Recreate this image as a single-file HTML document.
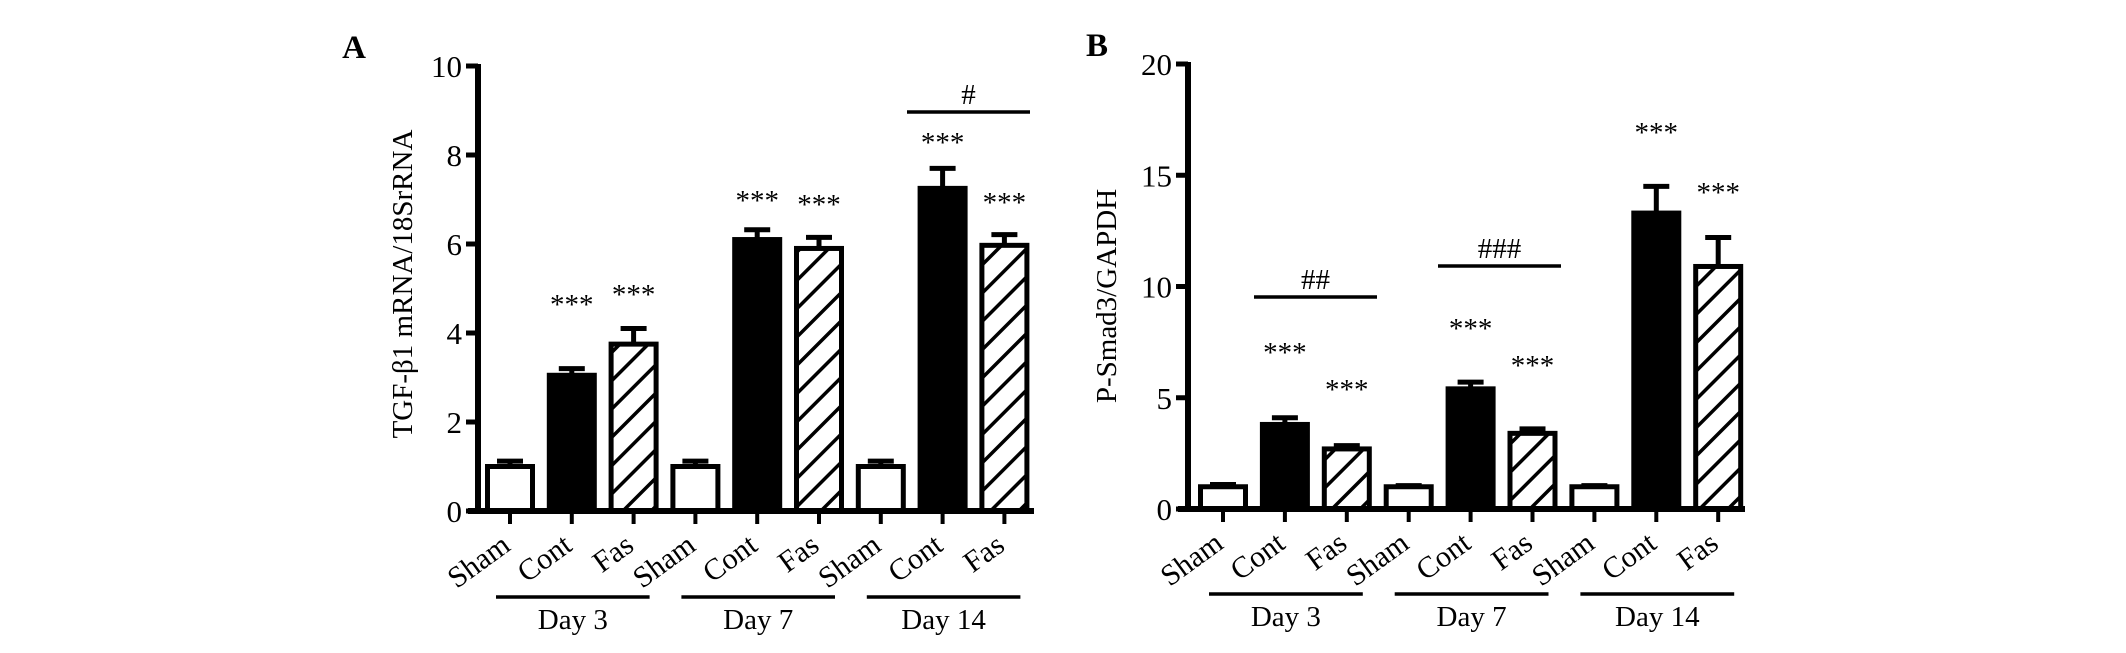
<!DOCTYPE html>
<html><head><meta charset="utf-8"><style>
html,body{margin:0;padding:0;background:#fff;}
svg{display:block;font-family:"Liberation Serif",serif;}
</style></head><body>
<svg id="fig" width="2126" height="653" viewBox="0 0 2126 653" xmlns="http://www.w3.org/2000/svg">
<defs>
<pattern id="hatch" patternUnits="userSpaceOnUse" width="20" height="20" patternTransform="rotate(45)">
<rect width="20" height="20" fill="#fff"/>
<line x1="0" y1="0" x2="0" y2="20" stroke="#000" stroke-width="7"/>
</pattern>
</defs>
</svg>
<script>
const categories = ["Sham","Cont","Fas","Sham","Cont","Fas","Sham","Cont","Fas"];
const groups = ["Day 3","Day 7","Day 14"];
const valuesA = [1.0,3.05,3.75,1.0,6.1,5.9,1.0,7.25,5.97];
const errorsA = [0.12,0.15,0.35,0.12,0.22,0.25,0.12,0.45,0.24];
const starsA = ["","***","***","","***","***","","***","***"];
const starLevelA = [0,4.74,4.97,0,7.08,6.99,0,8.38,7.03];
const ticksA = [0,2,4,6,8,10];
const valuesB = [1.0,3.8,2.7,1.0,5.4,3.4,1.0,13.3,10.9];
const errorsB = [0.1,0.3,0.15,0.05,0.3,0.2,0.05,1.2,1.3];
const starsB = ["","***","***","","***","***","","***","***"];
const starLevelB = [0,7.24,5.57,0,8.31,6.65,0,17.12,14.43];
const ticksB = [0,5,10,15,20];
const fills = ["#fff","#000","url(#hatch)","#fff","#000","url(#hatch)","#fff","#000","url(#hatch)"];

const svg = document.getElementById('fig');
const NS = "http://www.w3.org/2000/svg";
function mk(tag, attrs, parent){
  const e = document.createElementNS(NS, tag);
  for (const k in attrs) e.setAttribute(k, attrs[k]);
  (parent||svg).appendChild(e);
  return e;
}

function chart(cfg){
  const g = mk('g',{});
  
  
  const y = v => cfg.y0 - (v/cfg.max)*(cfg.y0-cfg.yTop);
  const x = i => cfg.x0 + cfg.off + i*cfg.step;
  const bw = 49;
  const L = mk('text',{x:cfg.letterX,y:cfg.letterY,'font-size':33,'font-weight':'bold','text-anchor':'middle'},g);
  L.textContent = cfg.letter;
  
  
  const t = mk('text',{x:0,y:0,'font-size':29,'text-anchor':'middle',transform:`translate(${cfg.titleX},${cfg.titleY}) rotate(-90)`},g);
  t.textContent = cfg.title;
  
  
  cfg.values.forEach((v,i)=>{
    const cx = x(i);
    const top = y(v+cfg.errors[i]);
    const el = mk('line',{x1:cx,y1:y(v),x2:cx,y2:top,stroke:'#000','stroke-width':5},g);
    
    
    const cap = mk('line',{x1:cx-13,y1:top,x2:cx+13,y2:top,stroke:'#000','stroke-width':5},g);
    
    
    const r = mk('rect',{x:cx-bw/2+2,y:y(v),width:bw-4,height:cfg.y0-y(v),fill:fills[i],stroke:'#000','stroke-width':5},g);
    
    
    if (cfg.stars[i]) {
      const s = mk('text',{x:cx,y:y(cfg.starLevel[i])+14,'font-size':29,'text-anchor':'middle'},g);
      s.textContent = cfg.stars[i];
      
      
    }
    const tk = mk('line',{x1:cx,y1:cfg.y0,x2:cx,y2:cfg.y0+13,stroke:'#000','stroke-width':4},g);
    
    
    const lab = mk('text',{x:0,y:0,'font-size':30,'text-anchor':'end',transform:`translate(${cx+2},${cfg.y0+38}) rotate(-36)`},g);
    lab.textContent = categories[i];
    
    
  });
  const ya = mk('line',{x1:cfg.x0,y1:cfg.yTop-2,x2:cfg.x0,y2:cfg.y0+2,stroke:'#000','stroke-width':6},g);
  
  
  const xa = mk('line',{x1:cfg.x0-10,y1:cfg.y0,x2:cfg.xEnd,y2:cfg.y0,stroke:'#000','stroke-width':6},g);
  
  
  cfg.ticks.forEach(tv=>{
    const ty = y(tv);
    const l = mk('line',{x1:cfg.x0-12,y1:ty,x2:cfg.x0,y2:ty,stroke:'#000','stroke-width':5},g);
    
    
    const tt = mk('text',{x:cfg.x0-16,y:ty+11,'font-size':31,'text-anchor':'end'},g);
    tt.textContent = tv;
    
    
  });
  groups.forEach((gn,j)=>{
    const a = x(j*3)-14, b = x(j*3+2)+16;
    const gl = mk('line',{x1:a,y1:cfg.groupY,x2:b,y2:cfg.groupY,stroke:'#000','stroke-width':3.5},g);
    
    
    const gt = mk('text',{x:(a+b)/2,y:cfg.groupY+32,'font-size':29,'text-anchor':'middle'},g);
    gt.textContent = gn;
    
    
  });
  cfg.comps.forEach(c=>{
    const cl = mk('line',{x1:c.x1,y1:c.y,x2:c.x2,y2:c.y,stroke:'#000','stroke-width':3.5},g);
    
    
    const ct = mk('text',{x:(c.x1+c.x2)/2,y:c.y-8,'font-size':29,'text-anchor':'middle'},g);
    ct.textContent = c.label;
    
    
  });
}

chart({name:'chart-a',letter:'A',letterX:354,letterY:58,title:'TGF-β1 mRNA/18SrRNA',titleX:412,titleY:284,
  x0:478,y0:511,yTop:66,max:10,xEnd:1034,off:32,step:61.8,values:valuesA,errors:errorsA,stars:starsA,starLevel:starLevelA,ticks:ticksA,groupY:597,
  comps:[{x1:907,x2:1030,y:112,label:'#'}]});
chart({name:'chart-b',letter:'B',letterX:1097,letterY:56,title:'P-Smad3/GAPDH',titleX:1116,titleY:296,
  x0:1188,y0:509,yTop:64,max:20,xEnd:1745,off:35,step:61.9,values:valuesB,errors:errorsB,stars:starsB,starLevel:starLevelB,ticks:ticksB,groupY:594,
  comps:[{x1:1254,x2:1377,y:297,label:'##'},{x1:1438,x2:1561,y:266,label:'###'}]});
</script>
</body></html>
